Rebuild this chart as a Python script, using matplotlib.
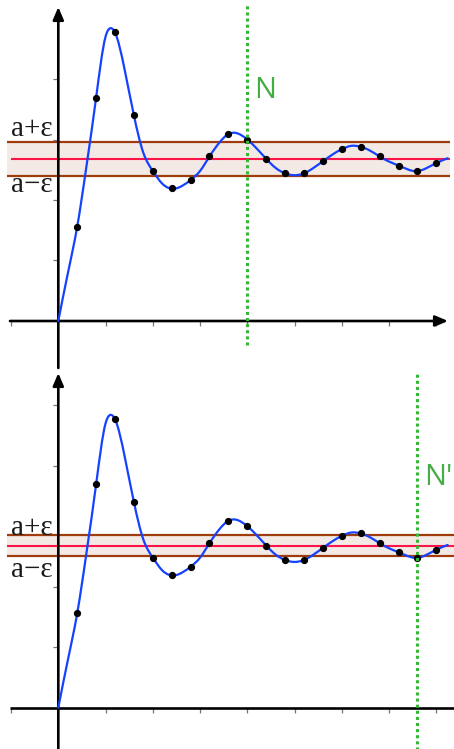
import numpy as np
import matplotlib
matplotlib.use("Agg")
import matplotlib.pyplot as plt
from matplotlib.path import Path
from matplotlib.patches import PathPatch

# ---------------- data ----------------
# sequence terms u_n (dots)
n_terms = [1, 2, 3, 4, 5, 6, 7, 8, 9, 10, 11, 12, 13, 14, 15, 16, 17, 18, 19, 20]
u_terms = [1.56, 3.69, 4.77, 3.40, 2.48, 2.20, 2.33, 2.72, 3.09, 3.00,
           2.68, 2.44, 2.44, 2.64, 2.84, 2.88, 2.72, 2.57, 2.48, 2.61]

# continuous curve samples
curve_x = [0, 0.5, 1, 1.5, 2, 2.5, 2.77, 3, 3.5, 4, 4.5, 5, 5.5, 6.2, 7, 7.5,
           8, 8.5, 9, 9.37, 10, 10.5, 11, 11.5, 12, 12.45, 13, 13.5, 14, 14.5,
           15, 15.5, 16, 16.5, 17, 17.5, 18, 18.5, 18.9, 19.5, 20, 20.6]
curve_y = [0.0, 0.78, 1.56, 2.58, 3.69, 4.70, 4.84, 4.77, 4.17, 3.40, 2.78, 2.48,
           2.27, 2.19, 2.33, 2.48, 2.72, 2.94, 3.09, 3.11, 3.00, 2.85, 2.68,
           2.53, 2.44, 2.41, 2.44, 2.53, 2.64, 2.75, 2.84, 2.895, 2.88, 2.815,
           2.72, 2.635, 2.57, 2.505, 2.475, 2.53, 2.61, 2.69]

limit_a = 2.68
epsilons = [0.28, 0.18]
N_values = [10, 19]
N_labels = ["N", "N'"]
x_ticks = [-2.5, 2.5, 5, 7.5, 10, 12.5, 15, 17.5, 20]
y_ticks_top = [1, 2, 3, 4]
y_ticks_bottom = [1, 2, 4, 5]
label_plus = "a+ε"
label_minus = "a−ε"

# ---------------- style ----------------
BLUE = "#1442ff"
BROWN = "#a03c0c"
RED = "#ff1448"
BAND = "#f3e9e5"
GREEN = "#33b833"
GREEN_TXT = "#45ad45"
TICK = "#777777"

W, H = 454, 749
fig = plt.figure(figsize=(W / 100, H / 100), dpi=100)
fig.patch.set_facecolor("white")

PX_N = 18.9     # pixels per unit of n
PX_V = 60.5     # pixels per unit of value
X0 = 58.3       # pixel x of origin


def spline_path(xs, ys):
    """Natural cubic spline through the samples, drawn as exact Bezier segments."""
    x = np.asarray(xs, float)
    y = np.asarray(ys, float)
    n = len(x)
    h = np.diff(x)
    A = np.zeros((n, n))
    r = np.zeros(n)
    A[0, 0] = A[-1, -1] = 1.0
    for i in range(1, n - 1):
        A[i, i - 1] = h[i - 1]
        A[i, i] = 2 * (h[i - 1] + h[i])
        A[i, i + 1] = h[i]
        r[i] = 3 * ((y[i + 1] - y[i]) / h[i] - (y[i] - y[i - 1]) / h[i - 1])
    c = np.linalg.solve(A, r)
    verts = [(x[0], y[0])]
    codes = [Path.MOVETO]
    for i in range(n - 1):
        b = (y[i + 1] - y[i]) / h[i] - h[i] * (2 * c[i] + c[i + 1]) / 3
        b1 = b + 2 * c[i] * h[i] + 3 * ((c[i + 1] - c[i]) / (3 * h[i])) * h[i] ** 2
        verts += [(x[i] + h[i] / 3, y[i] + b * h[i] / 3),
                  (x[i + 1] - h[i] / 3, y[i + 1] - b1 * h[i] / 3),
                  (x[i + 1], y[i + 1])]
        codes += [Path.CURVE4] * 3
    return Path(verts, codes)


def panel(top_px, height_px, origin_py, eps, Nv, Nlab, yticks, is_top,
          lab_plus_v, lab_minus_v):
    ax = fig.add_axes([0, 1 - (top_px + height_px) / H, 1, height_px / H])
    ax.set_xlim((0 - X0) / PX_N, (W - X0) / PX_N)
    ax.set_ylim((origin_py - (top_px + height_px)) / PX_V,
                (origin_py - top_px) / PX_V)
    ax.axis("off")
    ax.set_facecolor("none")

    band_left = (7 - X0) / PX_N
    band_right = ((450 if is_top else 456) - X0) / PX_N
    red_left = ((11 if is_top else 7) - X0) / PX_N
    ax.fill_between([band_left, band_right], limit_a - eps, limit_a + eps,
                    color=BAND, lw=0, zorder=1)
    ax.hlines([limit_a - eps, limit_a + eps], band_left, band_right,
              color=BROWN, lw=1.6, zorder=2)
    ax.hlines(limit_a, red_left, band_right, color=RED, lw=1.5, zorder=2)

    # axes
    tk_x = 5 / PX_V
    tk_y = 5 / PX_N
    ax.vlines(x_ticks, -tk_x, 0, color=TICK, lw=0.9, zorder=3)
    ax.hlines(yticks, -tk_y, 0, color=TICK, lw=0.9, zorder=3)
    xa_left = (10 - X0) / PX_N
    if is_top:
        xa_right = (448 - X0) / PX_N
        ax.annotate("", xy=(xa_right, 0), xytext=(xa_left, 0),
                    arrowprops=dict(arrowstyle="-|>,head_length=0.75,head_width=0.32",
                                    lw=1.9, color="black", shrinkA=0, shrinkB=0),
                    zorder=4, annotation_clip=False)
        ya_bot = (origin_py - 368) / PX_V
        ya_top = (origin_py - 7) / PX_V
    else:
        ax.plot([xa_left, (W + 10 - X0) / PX_N], [0, 0], color="black",
                lw=1.9, zorder=4, solid_capstyle="butt")
        ya_bot = (origin_py - 760) / PX_V
        ya_top = (origin_py - 373) / PX_V
    ax.annotate("", xy=(0, ya_top), xytext=(0, ya_bot),
                arrowprops=dict(arrowstyle="-|>,head_length=0.75,head_width=0.32",
                                lw=1.9, color="black", shrinkA=0, shrinkB=0),
                zorder=4, annotation_clip=False)

    # curve + dots
    ax.add_patch(PathPatch(spline_path(curve_x, curve_y), fc="none",
                           ec=BLUE, lw=1.6, zorder=5, capstyle="round"))
    ax.plot(n_terms, u_terms, "o", ms=4.2, color="black", zorder=6)

    # N line
    if is_top:
        nl_top, nl_bot = (origin_py - 5) / PX_V, (origin_py - 345) / PX_V
    else:
        nl_top, nl_bot = (origin_py - 372) / PX_V, (origin_py - 760) / PX_V
    ax.plot([Nv, Nv], [nl_bot, nl_top], color=GREEN, lw=2.2,
            linestyle=(0, (1, 1)), zorder=7, clip_on=False)
    ax.text(Nv + 0.35, 3.68, Nlab, color=GREEN_TXT, fontsize=21,
            family="Open Sans", ha="left", va="baseline", zorder=8)

    # labels
    lx = (53 - X0) / PX_N
    ax.text(lx, lab_plus_v, label_plus, fontsize=21, family="Liberation Serif",
            ha="right", va="baseline", color="#1a1a1a", zorder=8)
    ax.text(lx, lab_minus_v, label_minus, fontsize=21, family="Liberation Serif",
            ha="right", va="baseline", color="#1a1a1a", zorder=8)
    return ax


panel(0, 372, 321.0, epsilons[0], N_values[0], N_labels[0], y_ticks_top, True,
      (321 - 136) / PX_V, (321 - 192) / PX_V)
panel(372, 377, 707.7, epsilons[1], N_values[1], N_labels[1], y_ticks_bottom, False,
      (707.7 - 535) / PX_V, (707.7 - 577) / PX_V)

fig.savefig("out.png", dpi=100, facecolor="white")
